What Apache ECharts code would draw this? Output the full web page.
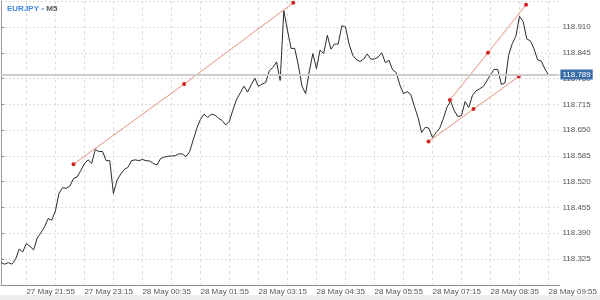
<!DOCTYPE html>
<html><head><meta charset="utf-8">
<script src="https://cdn.jsdelivr.net/npm/echarts@6/dist/echarts.min.js"></script>
<style>html,body{margin:0;padding:0;background:#fff}#c{width:600px;height:300px}</style>
</head><body><div id="c"></div>
<script>
// EURJPY M5 closes, 27 May 21:20 .. 28 May 09:55
const closes = [
118.316,118.312,118.316,118.312,118.324,118.350,118.343,118.364,118.357,118.348,
118.378,118.391,118.406,118.427,118.423,118.446,118.491,118.505,118.503,118.509,
118.528,118.532,118.548,118.565,118.575,118.566,118.601,118.596,118.596,118.573,
118.573,118.490,118.524,118.539,118.551,118.556,118.573,118.575,118.573,118.576,
118.573,118.572,118.566,118.562,118.578,118.582,118.584,118.585,118.585,118.590,
118.590,118.583,118.595,118.625,118.655,118.677,118.690,118.682,118.690,118.688,
118.680,118.674,118.663,118.673,118.702,118.728,118.744,118.761,118.746,118.764,
118.781,118.760,118.766,118.770,118.800,118.808,118.822,118.775,118.951,118.902,
118.856,118.856,118.814,118.761,118.742,118.797,118.843,118.805,118.852,118.843,
118.889,118.854,118.867,118.867,118.913,118.910,118.867,118.839,118.828,118.823,
118.829,118.842,118.829,118.829,118.834,118.845,118.820,118.826,118.802,118.795,
118.764,118.742,118.747,118.740,118.710,118.682,118.644,118.657,118.655,118.631,
118.644,118.655,118.679,118.708,118.723,118.699,118.684,118.687,118.722,118.707,
118.737,118.749,118.754,118.760,118.774,118.790,118.803,118.803,118.765,118.769,
118.839,118.868,118.887,118.937,118.924,118.880,118.875,118.855,118.827,118.824,
118.804,118.789
];
const lastPrice = 118.789;
// trend lines: [bar index, price] for start, middle, end points
const trendA = [[20.0,118.564],[50.5,118.766],[80.6,118.971]];
const trendB = [[123.8,118.726],[134.3,118.845],[144.8,118.966]];
const trendC = [[117.9,118.621],[130.3,118.703],[142.8,118.785]];
const yTicks = {min:118.260, max:118.975, step:0.065};
const startDay = 27, startMinutes = 21*60+20, barMinutes = 5, barCount = 155;
const firstLabelIndex = 7, labelEvery = 16, gridEvery = 8;

const categories = [];
for (let i = 0; i < barCount; i++) {
  const t = startMinutes + i*barMinutes;
  const day = startDay + Math.floor(t/1440);
  const m = t % 1440;
  const hh = String(Math.floor(m/60)).padStart(2,'0');
  const mm = String(m%60).padStart(2,'0');
  categories.push(day + ' May ' + hh + ':' + mm);
}

const font = 'Liberation Sans, Arial, sans-serif';
const trendSeries = [trendA, trendB, trendC].map(d => ({
  type:'line', xAxisIndex:1, yAxisIndex:0, data:d, symbol:'circle', symbolSize:4,
  showSymbol:true, lineStyle:{color:'#e8907e', width:1}, itemStyle:{color:'#d41f1f'},
  z:4, silent:true, animation:false
}));

const chart = echarts.init(document.getElementById('c'), null, {renderer:'canvas'});
chart.setOption({
  animation:false,
  backgroundColor:'#ffffff',
  title:{
    left:2, top:0,
    text:'{a|EURJPY} {b|•} {c|M5}',
    textStyle:{fontSize:8, fontFamily:font,
      rich:{a:{color:'#3f8ae0',fontSize:8,fontFamily:font},b:{color:'#7fa8d8',fontSize:8},c:{color:'#555',fontSize:8,fontFamily:font}}}
  },
  graphic:[{type:'rect', shape:{x:0,y:295,width:600,height:5}, style:{fill:'#eeeeee'}, silent:true}],
  grid:{left:1, right:30, top:1.2, bottom:15.2},
  xAxis:[{
    type:'category', data:categories, boundaryGap:false,
    axisLine:{lineStyle:{color:'#8c8c8c', width:1}},
    axisTick:{show:false},
    axisLabel:{interval:(i)=> (i-firstLabelIndex)%labelEvery===0 && i>=firstLabelIndex,
      align:'left', color:'#555', fontSize:8, fontFamily:font, margin:3},
    splitLine:{show:true, interval:(i)=> (i-firstLabelIndex)%gridEvery===0 && i>=firstLabelIndex,
      lineStyle:{color:'#dddddd', type:[3,3], width:1}}
  },{
    type:'value', min:0, max:barCount-1, show:false
  }],
  yAxis:[{
    type:'value', position:'right', min:yTicks.min, max:yTicks.max, interval:yTicks.step,
    axisLine:{show:true, lineStyle:{color:'#8c8c8c', width:1}},
    axisTick:{show:true, length:3, lineStyle:{color:'#8c8c8c'}},
    axisLabel:{showMinLabel:false, showMaxLabel:false, color:'#555', fontSize:8, fontFamily:font, margin:3,
      formatter:(v)=>v.toFixed(3)},
    splitLine:{show:true, lineStyle:{color:'#dddddd', type:[2,2], width:1}}
  },{
    type:'value', position:'left', min:yTicks.min, max:yTicks.max,
    axisLine:{show:true, lineStyle:{color:'#9a9a9a', width:1}},
    axisTick:{show:false}, axisLabel:{show:false}, splitLine:{show:false}
  }],
  series:[{
    type:'line', data:closes, xAxisIndex:0, yAxisIndex:0, showSymbol:false, symbol:'none',
    lineStyle:{color:'#2b2b2b', width:1}, z:3, silent:true,
    markLine:{
      silent:true, symbol:['none','none'],
      lineStyle:{color:'#cdcdcd', width:2, type:'solid'},
      label:{show:true, position:'end', distance:1, formatter:lastPrice.toFixed(3),
        backgroundColor:'#3b6ea8', color:'#ffffff', fontSize:8, fontFamily:font, padding:[1,2,1,2]},
      data:[{yAxis:lastPrice}]
    }
  }, ...trendSeries]
});
</script></body></html>
